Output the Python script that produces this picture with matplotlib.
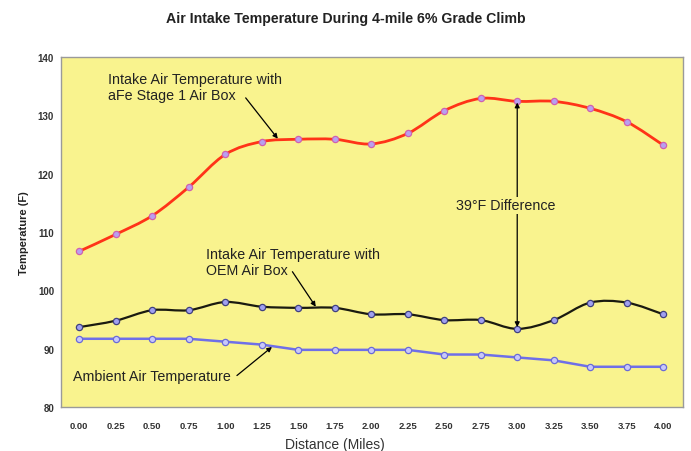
import numpy as np
import matplotlib
matplotlib.use('Agg')
import matplotlib.pyplot as plt
from matplotlib.path import Path
from matplotlib.patches import PathPatch

plt.rcParams['font.family'] = ['Liberation Sans', 'DejaVu Sans']

distance = [0.00, 0.25, 0.50, 0.75, 1.00, 1.25, 1.50, 1.75, 2.00,
            2.25, 2.50, 2.75, 3.00, 3.25, 3.50, 3.75, 4.00]
afe_temp = [106.7, 109.6, 112.8, 117.7, 123.3, 125.5, 125.9, 125.9, 125.1,
            126.9, 130.8, 132.9, 132.4, 132.4, 131.2, 128.9, 124.9]
oem_temp = [93.7, 94.8, 96.6, 96.6, 98.0, 97.2, 97.0, 97.0, 95.9,
            95.9, 94.9, 94.9, 93.4, 94.9, 97.9, 97.9, 95.9]
ambient_temp = [91.7, 91.7, 91.7, 91.7, 91.2, 90.7, 89.8, 89.8, 89.8,
                89.8, 89.0, 89.0, 88.5, 88.0, 86.9, 86.9, 86.9]
xticks = [f'{d:.2f}' for d in distance]
yticks = [80, 90, 100, 110, 120, 130, 140]

YELLOW = '#F9F38E'


def smooth_path(x, y):
    # excel-like smoothed line: cubic bezier through each point
    p = np.column_stack([x, y])
    n = len(p)
    verts = [p[0]]
    codes = [Path.MOVETO]
    for i in range(n - 1):
        p0 = p[i - 1] if i > 0 else p[i]
        p3 = p[i + 2] if i + 2 < n else p[i + 1]
        c1 = p[i] + (p[i + 1] - p0) / 6
        c2 = p[i + 1] - (p3 - p[i]) / 6
        verts += [c1, c2, p[i + 1]]
        codes += [Path.CURVE4] * 3
    return Path(verts, codes)


fig = plt.figure(figsize=(6.91, 4.52), dpi=100)
ax = fig.add_axes([0.0883, 0.0973, 0.900, 0.7743])
ax.set_facecolor(YELLOW)
for s in ax.spines.values():
    s.set_color('#9a9a9a')
    s.set_linewidth(1)

# smoothed red and black lines
ax.add_patch(PathPatch(smooth_path(distance, afe_temp), fill=False,
                       edgecolor='#FF3318', lw=2, zorder=3))
ax.add_patch(PathPatch(smooth_path(distance, oem_temp), fill=False,
                       edgecolor='#1a1a10', lw=1.6, zorder=3))
ax.plot(distance, ambient_temp, color='#6F6FE8', lw=1.8, zorder=3)

ax.plot(distance, afe_temp, 'o', ms=4.5, mfc='#B8A0F0', mec='#D060B0', mew=0.9, zorder=4)
ax.plot(distance, oem_temp, 'o', ms=4.5, mfc='#A0A0F0', mec='#404080', mew=0.9, zorder=4)
ax.plot(distance, ambient_temp, 'o', ms=4.5, mfc='#C8C8FA', mec='#6A6AD8', mew=0.9, zorder=4)

ax.set_xlim(-0.125, 4.135)
ax.set_ylim(80, 140)
ax.set_xticks(distance)
ax.set_xticklabels(xticks)
ax.set_yticks(yticks)
ax.tick_params(axis='x', labelsize=6.8, length=0, pad=10)
ax.tick_params(axis='y', labelsize=7, length=0, pad=5)
for lab in ax.get_xticklabels() + ax.get_yticklabels():
    lab.set_fontweight('bold')
    lab.set_color('#333333')

ax.set_xlabel('Distance (Miles)', fontsize=10, color='#333333')
ax.xaxis.set_label_coords(0.44, -0.085)
ax.set_ylabel('Temperature (F)', fontsize=8, fontweight='bold', color='#222222', labelpad=6)
fig.text(0.5, 0.957, 'Air Intake Temperature During 4-mile 6% Grade Climb',
         ha='center', va='center', fontsize=10.2, fontweight='bold', color='#222222')

# annotations
fs = 10.3
arrow = dict(arrowstyle='-|>', color='black', lw=0.9, mutation_scale=7,
             shrinkA=0, shrinkB=0)
ax.text(0.2, 137.4, 'Intake Air Temperature with\naFe Stage 1 Air Box',
        fontsize=fs, color='#222222', ha='left', va='top', linespacing=1.2)
ax.annotate('', xy=(1.36, 126.0), xytext=(1.14, 133.0), arrowprops=arrow, zorder=5)

ax.text(0.87, 107.4, 'Intake Air Temperature with\nOEM Air Box',
        fontsize=fs, color='#222222', ha='left', va='top', linespacing=1.2)
ax.annotate('', xy=(1.62, 97.2), xytext=(1.46, 103.2), arrowprops=arrow, zorder=5)

ax.text(-0.04, 85.4, 'Ambient Air Temperature',
        fontsize=fs, color='#222222', ha='left', va='center')
ax.annotate('', xy=(1.32, 90.3), xytext=(1.08, 85.4), arrowprops=arrow, zorder=5)

ax.annotate('', xy=(3.0, 132.2), xytext=(3.0, 93.7),
            arrowprops=dict(arrowstyle='<|-|>', color='black', lw=0.9,
                            mutation_scale=7, shrinkA=0, shrinkB=0), zorder=5)
ax.text(2.92, 114.6, '39\u00b0F Difference', fontsize=fs, color='#222222',
        ha='center', va='center', zorder=6,
        bbox=dict(facecolor=YELLOW, edgecolor='none', pad=1))

fig.savefig('out.png', dpi=100, facecolor='white')
